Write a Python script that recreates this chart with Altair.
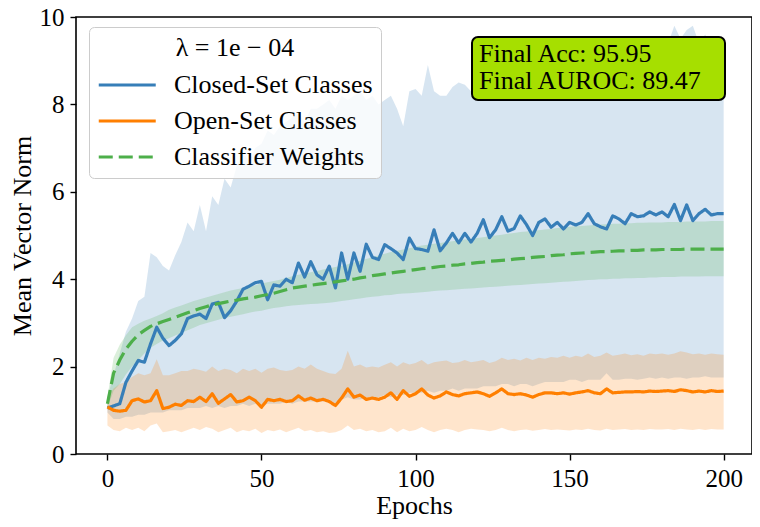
import altair as alt
import pandas as pd

# ---------------- data ----------------
epochs = list(range(0, 201, 2))

closed_mean = [
    1.05, 1.10, 1.15, 1.64, 1.90, 2.14, 2.10, 2.52, 2.90, 2.65,
    2.48, 2.60, 2.75, 3.10, 3.16, 3.20, 3.10, 3.43, 3.47, 3.12,
    3.28, 3.50, 3.77, 3.84, 3.92, 3.95, 3.53, 3.87, 3.84, 4.00,
    3.92, 4.37, 4.05, 4.40, 4.10, 4.00, 4.30, 3.80, 4.60, 4.00,
    4.60, 4.18, 4.80, 4.50, 4.45, 4.79, 4.70, 4.60, 4.45, 4.94,
    4.70, 4.68, 4.64, 5.13, 4.65, 4.83, 5.05, 4.83, 5.05, 4.85,
    5.05, 5.36, 4.95, 5.13, 5.43, 5.10, 5.16, 5.45, 5.25, 5.00,
    5.30, 5.38, 5.19, 5.30, 5.15, 5.30, 5.24, 5.30, 5.50, 5.27,
    5.20, 5.15, 5.45, 5.38, 5.27, 5.50, 5.43, 5.45, 5.54, 5.47,
    5.54, 5.43, 5.71, 5.34, 5.70, 5.34, 5.50, 5.60, 5.47, 5.50,
    5.50,
]
closed_lo = [
    0.95, 0.80, 0.80, 0.85, 0.85, 0.90, 0.90, 0.95, 0.95, 0.95,
    1.00, 1.00, 1.00, 1.05, 1.05, 1.05, 1.10, 1.05, 1.10, 1.05,
    1.10, 1.10, 1.15, 1.10, 1.15, 1.10, 1.15, 1.15, 1.15, 1.20,
    1.15, 1.20, 1.20, 1.20, 1.20, 1.20, 1.25, 1.10, 1.25, 1.30,
    1.25, 1.25, 1.30, 1.30, 1.30, 1.35, 1.30, 1.35, 1.35, 1.40,
    1.40, 1.40, 1.45, 1.40, 1.45, 1.45, 1.50, 1.45, 1.50, 1.50,
    1.50, 1.55, 1.55, 1.55, 1.60, 1.60, 1.55, 1.60, 1.60, 1.55,
    1.60, 1.65, 1.65, 1.65, 1.65, 1.70, 1.70, 1.65, 1.70, 1.70,
    1.70, 1.85, 1.70, 1.70, 1.72, 1.72, 1.70, 1.72, 1.75, 1.72,
    1.75, 1.72, 1.75, 1.75, 1.72, 1.75, 1.75, 1.78, 1.75, 1.75,
    1.75,
]
closed_hi = [
    1.30, 1.80, 2.30, 2.80, 3.10, 3.50, 3.60, 4.60, 4.50, 4.30,
    4.20, 4.55, 4.85, 5.30, 5.10, 5.70, 5.10, 5.90, 5.70, 6.30,
    6.10, 6.60, 6.90, 6.70, 7.00, 7.10, 7.40, 7.30, 7.50, 7.60,
    7.70, 7.80, 7.60, 7.90, 7.90, 8.00, 8.10, 7.90, 8.20, 8.10,
    8.20, 8.30, 8.10, 8.20, 8.00, 8.10, 8.20, 7.90, 7.50, 8.30,
    8.35, 8.20, 8.90, 8.30, 8.20, 8.20, 8.40, 8.50, 8.45, 8.30,
    8.60, 8.50, 8.70, 8.60, 8.90, 9.00, 9.20, 9.57, 9.20, 9.10,
    9.20, 9.00, 9.30, 9.10, 9.20, 9.30, 9.20, 9.10, 9.30, 9.20,
    9.30, 9.20, 9.40, 9.30, 9.20, 9.30, 9.40, 9.20, 9.30, 9.40,
    9.30, 9.40, 9.80, 9.50, 9.70, 9.80, 9.40, 9.60, 9.30, 9.40,
    9.40,
]

open_mean = [
    1.08, 1.00, 0.98, 1.00, 1.22, 1.26, 1.19, 1.22, 1.45, 1.04,
    1.07, 1.14, 1.11, 1.22, 1.20, 1.30, 1.20, 1.38, 1.16, 1.26,
    1.36, 1.19, 1.22, 1.30, 1.22, 1.07, 1.25, 1.22, 1.25, 1.20,
    1.22, 1.33, 1.23, 1.28, 1.22, 1.25, 1.20, 1.11, 1.28, 1.49,
    1.30, 1.35, 1.25, 1.28, 1.25, 1.30, 1.40, 1.25, 1.45, 1.32,
    1.38, 1.49, 1.35, 1.28, 1.33, 1.42, 1.36, 1.33, 1.38, 1.40,
    1.42, 1.38, 1.32, 1.40, 1.49, 1.38, 1.36, 1.38, 1.35, 1.30,
    1.36, 1.40, 1.40, 1.38, 1.40, 1.37, 1.40, 1.42, 1.45, 1.40,
    1.38, 1.49, 1.40, 1.41, 1.42, 1.42, 1.43, 1.42, 1.44, 1.43,
    1.44, 1.45, 1.43, 1.47, 1.45, 1.42, 1.44, 1.42, 1.45, 1.43,
    1.44,
]
open_lo = [
    0.65, 0.55, 0.52, 0.60, 0.55, 0.60, 0.52, 0.65, 0.70, 0.50,
    0.52, 0.55, 0.50, 0.55, 0.60, 0.55, 0.62, 0.58, 0.50, 0.55,
    0.60, 0.50, 0.55, 0.52, 0.58, 0.48, 0.55, 0.52, 0.56, 0.50,
    0.55, 0.60, 0.52, 0.55, 0.50, 0.52, 0.48, 0.50, 0.55, 0.65,
    0.55, 0.58, 0.52, 0.55, 0.50, 0.52, 0.60, 0.50, 0.58, 0.52,
    0.55, 0.62, 0.55, 0.50, 0.55, 0.58, 0.55, 0.50, 0.55, 0.58,
    0.56, 0.55, 0.52, 0.55, 0.60, 0.55, 0.52, 0.55, 0.56, 0.53,
    0.55, 0.57, 0.55, 0.56, 0.55, 0.54, 0.56, 0.55, 0.58, 0.55,
    0.54, 0.58, 0.55, 0.56, 0.57, 0.55, 0.56, 0.55, 0.57, 0.56,
    0.56, 0.57, 0.55, 0.58, 0.56, 0.55, 0.57, 0.55, 0.57, 0.56,
    0.56,
]
open_hi = [
    1.30, 1.50, 1.60, 1.65, 1.76, 1.85, 1.80, 1.85, 2.17, 1.80,
    1.80, 1.85, 1.90, 1.90, 1.95, 1.92, 1.88, 2.00, 1.90, 1.95,
    1.92, 1.85, 1.95, 1.90, 1.95, 1.86, 1.95, 1.98, 1.92, 1.90,
    1.92, 2.00, 1.95, 2.05, 1.95, 1.90, 1.85, 1.83, 1.95, 2.36,
    2.00, 2.05, 1.98, 2.00, 1.98, 2.04, 2.10, 2.00, 2.10, 2.05,
    2.08, 2.15, 2.05, 2.10, 2.12, 2.14, 2.08, 2.10, 2.15, 2.10,
    2.12, 2.15, 2.08, 2.12, 2.20, 2.15, 2.18, 2.14, 2.20, 2.15,
    2.20, 2.18, 2.22, 2.20, 2.25, 2.20, 2.25, 2.22, 2.30, 2.22,
    2.25, 2.32, 2.25, 2.27, 2.30, 2.26, 2.28, 2.25, 2.30, 2.28,
    2.30, 2.27, 2.30, 2.35, 2.32, 2.28, 2.30, 2.27, 2.30, 2.28,
    2.27,
]

weights_mean = [
    1.15, 1.85, 2.15, 2.40, 2.58, 2.73, 2.83, 2.92, 2.98, 3.03,
    3.08, 3.13, 3.18, 3.23, 3.28, 3.33, 3.37, 3.41, 3.44, 3.47,
    3.50, 3.52, 3.55, 3.57, 3.59, 3.62, 3.65, 3.68, 3.72, 3.76,
    3.80, 3.82, 3.84, 3.86, 3.88, 3.90, 3.92, 3.94, 3.96, 3.98,
    4.00, 4.03, 4.05, 4.08, 4.10, 4.12, 4.14, 4.16, 4.18, 4.20,
    4.22, 4.24, 4.25, 4.27, 4.29, 4.30, 4.32, 4.33, 4.35, 4.36,
    4.38, 4.39, 4.41, 4.42, 4.43, 4.44, 4.46, 4.47, 4.48, 4.50,
    4.51, 4.52, 4.54, 4.55, 4.56, 4.58, 4.59, 4.60, 4.61, 4.62,
    4.63, 4.63, 4.64, 4.65, 4.65, 4.66, 4.66, 4.67, 4.67, 4.67,
    4.68, 4.68, 4.68, 4.68, 4.69, 4.69, 4.69, 4.69, 4.69, 4.69,
    4.69,
]
weights_lo = [
    1.05, 1.45, 1.60, 1.82, 2.00, 2.15, 2.30, 2.43, 2.52, 2.60,
    2.65, 2.71, 2.77, 2.83, 2.89, 2.95, 2.99, 3.03, 3.07, 3.11,
    3.14, 3.17, 3.20, 3.23, 3.26, 3.28, 3.31, 3.34, 3.36, 3.38,
    3.40, 3.41, 3.42, 3.43, 3.44, 3.45, 3.46, 3.48, 3.50, 3.52,
    3.54, 3.56, 3.58, 3.60, 3.61, 3.63, 3.64, 3.66, 3.67, 3.68,
    3.69, 3.70, 3.71, 3.73, 3.74, 3.75, 3.76, 3.77, 3.78, 3.79,
    3.80, 3.81, 3.82, 3.83, 3.84, 3.85, 3.86, 3.87, 3.88, 3.89,
    3.90, 3.91, 3.92, 3.93, 3.94, 3.95, 3.96, 3.97, 3.98, 3.99,
    4.00, 4.00, 4.01, 4.01, 4.02, 4.02, 4.03, 4.03, 4.04, 4.04,
    4.05, 4.05, 4.05, 4.06, 4.06, 4.06, 4.06, 4.07, 4.07, 4.07,
    4.07,
]
weights_hi = [
    1.30, 2.20, 2.50, 2.72, 2.90, 2.98, 3.05, 3.10, 3.16, 3.22,
    3.30, 3.35, 3.40, 3.45, 3.50, 3.54, 3.58, 3.62, 3.66, 3.70,
    3.74, 3.77, 3.80, 3.83, 3.86, 3.90, 3.93, 3.96, 3.99, 4.03,
    4.07, 4.10, 4.13, 4.16, 4.19, 4.22, 4.25, 4.28, 4.31, 4.34,
    4.38, 4.42, 4.46, 4.50, 4.54, 4.58, 4.62, 4.65, 4.68, 4.71,
    4.74, 4.77, 4.79, 4.81, 4.83, 4.85, 4.87, 4.89, 4.91, 4.92,
    4.94, 4.96, 4.98, 5.00, 5.02, 5.04, 5.06, 5.08, 5.09, 5.11,
    5.12, 5.14, 5.15, 5.17, 5.18, 5.20, 5.21, 5.22, 5.23, 5.24,
    5.25, 5.26, 5.27, 5.27, 5.28, 5.28, 5.29, 5.29, 5.30, 5.30,
    5.30, 5.31, 5.31, 5.31, 5.32, 5.32, 5.32, 5.32, 5.33, 5.33,
    5.33,
]

series_names = ["Closed-Set Classes", "Open-Set Classes", "Classifier Weights"]
series_colors = ["#377eb8", "#ff7f00", "#4daf4a"]
x_ticks = [0, 50, 100, 150, 200]
y_ticks = [0, 2, 4, 6, 8, 10]
final_acc = 95.95
final_auroc = 89.47
legend_title = "λ = 1e − 04"

# ---------------- tables ----------------
bands = pd.DataFrame({
    "epoch": epochs,
    "closed_lo": closed_lo, "closed_hi": closed_hi,
    "open_lo": open_lo, "open_hi": open_hi,
    "w_lo": weights_lo, "w_hi": weights_hi,
})

rows = []
for name, vals in zip(series_names, [closed_mean, open_mean, weights_mean]):
    for e, v in zip(epochs, vals):
        rows.append({"epoch": e, "series": name, "value": v})
lines = pd.DataFrame(rows)

FONT = "'Liberation Serif', 'Times New Roman', 'DejaVu Serif', serif"

xenc = alt.X("epoch:Q",
             scale=alt.Scale(domain=[-10.2, 209.2], nice=False, zero=False),
             axis=alt.Axis(values=x_ticks, title="Epochs"))


def yenc(field):
    return alt.Y(field,
                 scale=alt.Scale(domain=[0, 10], nice=False, zero=True),
                 axis=alt.Axis(values=y_ticks, title="Mean Vector Norm", format="d"))


band_layers = []
for lo, hi, col in [("closed_lo", "closed_hi", series_colors[0]),
                    ("open_lo", "open_hi", series_colors[1]),
                    ("w_lo", "w_hi", series_colors[2])]:
    band_layers.append(
        alt.Chart(bands).mark_area(color=col, opacity=0.2, clip=True).encode(
            x=xenc, y=yenc(f"{lo}:Q"), y2=alt.Y2(f"{hi}:Q")
        )
    )

leg = alt.Legend(
    title=legend_title, orient="none", legendX=13, legendY=10,
    titleFont=FONT, titleFontSize=26, titleFontWeight="normal", titleColor="black",
    titleAnchor="middle", titleAlign="center", titlePadding=8,
    labelFont=FONT, labelFontSize=26, labelColor="black", labelLimit=0,
    labelOffset=45, symbolType="M-1,0H3", symbolSize=812, symbolStrokeWidth=3.2,
    rowPadding=7, padding=8, fillColor="rgba(255,255,255,0.8)",
    strokeColor="#cccccc", cornerRadius=5,
)

line_layer = alt.Chart(lines).mark_line(strokeWidth=3.2, strokeJoin="round", clip=True).encode(
    x=xenc,
    y=yenc("value:Q"),
    color=alt.Color("series:N", scale=alt.Scale(domain=series_names, range=series_colors), legend=leg),
    strokeDash=alt.StrokeDash("series:N",
                              scale=alt.Scale(domain=series_names, range=[[1, 0], [1, 0], [14, 6]]),
                              legend=leg),
)

ann = pd.DataFrame({"k": [1]})
box = alt.Chart(ann).mark_rect(fill="#a6df00", stroke="black", strokeWidth=2, cornerRadius=6).encode(
    x=alt.value(396), x2=alt.value(649), y=alt.value(20), y2=alt.value(83)
)
txt1 = alt.Chart(pd.DataFrame({"label": [f"Final Acc: {final_acc:.2f}"]})).mark_text(
    align="left", baseline="alphabetic", font=FONT, fontSize=26, color="black"
).encode(x=alt.value(403), y=alt.value(45), text="label:N")
txt2 = alt.Chart(pd.DataFrame({"label": [f"Final AUROC: {final_auroc:.2f}"]})).mark_text(
    align="left", baseline="alphabetic", font=FONT, fontSize=26, color="black"
).encode(x=alt.value(403), y=alt.value(72), text="label:N")

chart = alt.layer(*band_layers, line_layer, box, txt1, txt2).properties(
    width=676, height=437,
    padding={"left": 68, "top": 9, "right": 0, "bottom": 65},
    autosize=alt.AutoSizeParams(type="none"),
    background="white",
).configure(font=FONT).configure_view(
    stroke="black", strokeWidth=1.6
).configure_axis(
    grid=False, domain=False, ticks=True, tickColor="black", tickWidth=1.4, tickSize=6,
    labelFont=FONT, labelFontSize=25, labelColor="black",
    titleFont=FONT, titleFontSize=26, titleFontWeight="normal", titleColor="black",
).configure_axisX(labelPadding=6, titleBaseline="alphabetic", titleY=59).configure_axisY(
    labelPadding=6, titlePadding=4, labelBaseline="alphabetic", labelOffset=8
)

chart.save("out.html", embed_options={"renderer": "svg", "actions": False})
